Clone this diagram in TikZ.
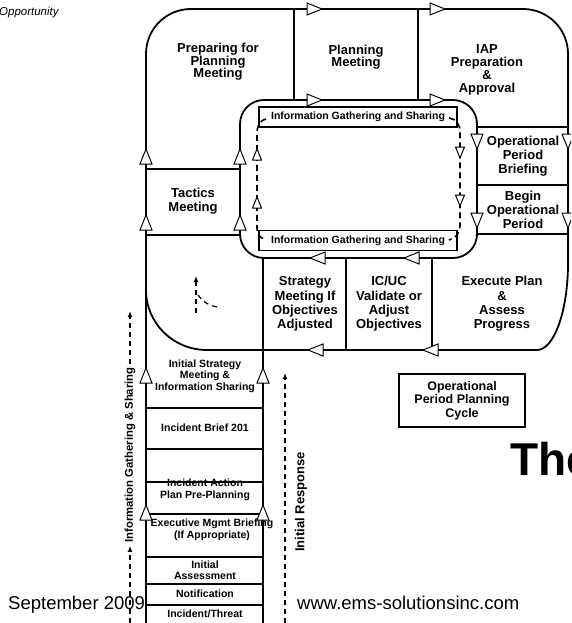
\documentclass[tikz,border=0pt]{standalone}
\usepackage{fontspec}
\setmainfont{Liberation Sans}
\usetikzlibrary{arrows.meta}

\tikzset{
    cell/.style={font=\bfseries\fontsize{13}{14.3}\selectfont, align=center, inner sep=0pt},
    stackcell/.style={font=\bfseries\fontsize{10.5}{11.5}\selectfont, align=center, inner sep=0pt},
    infobox/.style={draw, fill=white, line width=1.2pt, minimum width=198pt, minimum height=20pt,
        inner sep=0pt, font=\bfseries\fontsize{10.5}{12}\selectfont},
    sidetext/.style={rotate=90, font=\bfseries\fontsize{#1}{12}\selectfont, inner sep=0pt},
    wall/.style={line width=1.8pt},
    loopline/.style={line width=1.6pt, dash pattern=on 6pt off 4pt},
    guide/.style={line width=1.2pt, dash pattern=on 5pt off 4pt, -{Latex[length=6pt,width=5pt]}},
    flowtri/.pic={\draw[fill=white, line width=1pt] (-7,-6) -- (8,0) -- (-7,6) -- cycle;},
    looptri/.pic={\draw[fill=white, line width=1pt] (-5,-4.5) -- (6,0) -- (-5,4.5) -- cycle;}
}

\begin{document}
\begin{tikzpicture}[x=1pt, y=-1pt]
    % Page size
    \useasboundingbox (0,0) rectangle (571,623);
    \clip (0,0) rectangle (571,623);

    % Corner note
    \node[anchor=west, font=\itshape\fontsize{11.5}{12}\selectfont, inner sep=0pt] (note) at (-1,13) {Opportunity};

    % Outer ring of the cycle
    \draw[wall] (146,240) -- (146,54) .. controls (146,29) and (166,9) .. (191,9)
        -- (523,9) .. controls (548,9) and (568,29) .. (568,54)
        -- (568,263) .. controls (568,311) and (554,350) .. (537,350)
        -- (207,350) .. controls (173,350) and (146,323) .. (146,290);

    % Inner ring of the cycle
    \draw[wall, rounded corners=24pt] (240,100) rectangle (477,258);

    % Cell walls
    \draw[wall] (294,9) -- (294,100);
    \draw[wall] (418,9) -- (418,100);
    \foreach \y in {127,185,234}
        \draw[wall] (477,\y) -- (568,\y);
    \foreach \y in {169,235}
        \draw[wall] (146,\y) -- (240,\y);
    \draw[wall] (346,258) -- (346,350);
    \draw[wall] (432,258) -- (432,350);

    % Initial response stack
    \draw[wall] (146,240) -- (146,630);
    \draw[wall] (263,258) -- (263,630);

    % Cycle labels
    \node[cell, font=\bfseries\fontsize{13}{12.5}\selectfont] (prep) at (218,62) {Preparing for\\Planning\\Meeting};
    \node[cell, font=\bfseries\fontsize{13}{12.5}\selectfont] (planmtg) at (356,57) {Planning\\Meeting};
    \node[cell, font=\bfseries\fontsize{13}{13}\selectfont] (iap) at (487,70) {IAP\\Preparation\\\&\\Approval};
    \node[cell] (briefing) at (523,156) {Operational\\Period\\Briefing};
    \node[cell] (begin) at (523,210) {Begin\\Operational\\Period};
    \node[cell] (tactics) at (193,201) {Tactics\\Meeting};
    \node[cell] (strategy) at (305,304) {Strategy\\Meeting If\\Objectives\\Adjusted};
    \node[cell] (icuc) at (389,304) {IC/UC\\Validate or\\Adjust\\Objectives};
    \node[cell] (execute) at (502,304) {Execute Plan\\\&\\Assess\\Progress};

    % Stack labels
    \node[stackcell] (initstrat) at (205,376) {Initial Strategy\\Meeting \&\\Information Sharing};
    \node[stackcell] (brief201) at (205,428) {Incident Brief 201};
    \node[stackcell] (preplan) at (205,490) {Incident Action\\Plan Pre-Planning};
    \node[stackcell] (exec) at (212,530) {Executive Mgmt Briefing\\(If Appropriate)};
    \node[stackcell] (assess) at (205,570) {Initial\\Assessment};
    \node[stackcell] (notify) at (205,594) {Notification};
    \node[stackcell] (threat) at (205,614) {Incident/Threat};
    \foreach \y in {408,449,482,514,557,584,605}
        \draw[wall] (146,\y) -- (263,\y);

    % Information gathering loop
    \node[infobox] (infotop) at (358,117) {Information Gathering and Sharing};
    \node[infobox] (infobot) at (358,240.5) {Information Gathering and Sharing};
    \draw[loopline] (266,119) .. controls (259,121) and (257,126) .. (257,134) -- (257,228)
        .. controls (257,234) and (259,237) .. (264,239);
    \draw[loopline] (449,118) .. controls (456,119) and (460,124) .. (460,132) -- (460,226)
        .. controls (460,233) and (456,238) .. (449,240);
    \foreach \y in {152,200}
        \pic[rotate=-90] at (460,\y) {looptri};
    \foreach \y in {155,203}
        \pic[rotate=90] at (257,\y) {looptri};

    % Flow arrows on the rings
    \foreach \x in {314,437}
        \foreach \y in {9,100}
            \pic at (\x,\y) {flowtri};
    \foreach \x in {568,477}
        \foreach \y in {141,220}
            \pic[rotate=-90] at (\x,\y) {flowtri};
    \foreach \x in {146,240}
        \foreach \y in {157,223}
            \pic[rotate=90] at (\x,\y) {flowtri};
    \foreach \x/\y in {318/258,412/258,316/350,431/350}
        \pic[rotate=180] at (\x,\y) {flowtri};
    \foreach \x in {146,263}
        \foreach \y in {376,513}
            \pic[rotate=90] at (\x,\y) {flowtri};

    % Dashed hint in the lower left cell
    \draw[guide] (196,313) -- (196,276);
    \draw[line width=1.2pt, dash pattern=on 5pt off 4pt] (198,295) .. controls (204,303) and (210,306) .. (218,307);

    % Side guides
    \coordinate (gatherlow) at (130,623);
    \coordinate (gatherhigh) at (130,311);
    \coordinate (resplow) at (285,623);
    \coordinate (resphigh) at (285,373);
    \node[sidetext=11.3] (gather) at (130,455) {Information Gathering \& Sharing};
    \draw[guide] (gatherlow) -- ([yshift=-3pt]gather.west);
    \draw[guide] ([yshift=3pt]gather.east) -- (gatherhigh);
    \draw[guide] (resplow) -- (resphigh);
    \node[sidetext=13] (response) at (301,502) {Initial Response};

    % Title box
    \node[draw, line width=1.6pt, minimum width=126pt, minimum height=53pt, align=center,
        font=\bfseries\fontsize{12.5}{13.5}\selectfont] (cycle) at (462,400.5) {Operational\\Period Planning\\Cycle};
    \node[anchor=base west, font=\bfseries\fontsize{46}{46}\selectfont, inner sep=0pt] (the) at (510,475) {The};

    % Footer
    \node[anchor=base west, font=\fontsize{18.5}{20}\selectfont, inner sep=0pt] (date) at (8,609) {September 2009};
    \node[anchor=base west, font=\fontsize{18.5}{20}\selectfont, inner sep=0pt] (web) at (297,609) {www.ems-solutionsinc.com};
\end{tikzpicture}
\end{document}
